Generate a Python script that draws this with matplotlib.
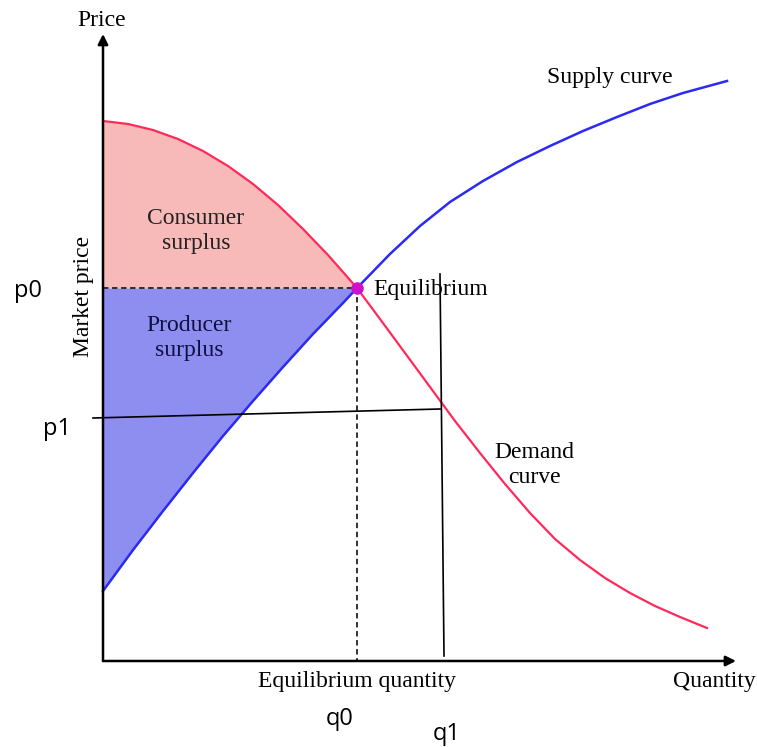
import matplotlib.pyplot as plt

# Demand and supply curves (quantity, price in chart units)
demand_q = [0, 25, 50, 75, 100, 125, 150, 175, 200, 225, 254, 277, 302, 327,
            352, 377, 402, 427, 452, 477, 502, 527, 552, 577, 604]
demand_p = [540, 537, 531, 522, 510, 495, 477, 456, 432, 406, 373, 342, 308, 274,
            240, 208, 177, 148, 122, 101, 83, 68, 55, 44, 33]
supply_q = [0, 30, 60, 90, 120, 150, 180, 210, 240, 254, 287, 317, 347, 380,
            414, 447, 480, 514, 547, 580, 624]
supply_p = [70, 111, 150, 188, 225, 260, 294, 327, 358, 373, 407, 435, 459, 480,
            499, 515, 530, 544, 557, 568, 580]

# equilibrium and the shifted price / quantity lines
q0, p0 = 254, 373
p1_line_q = [-10, 337]
p1_line_p = [243, 252]
q1_line_q = [337, 341]
q1_line_p = [387, 5]

serif = "Liberation Serif"
sans = "Open Sans"

fig = plt.figure(figsize=(7.57, 7.47), dpi=100)
ax = fig.add_axes([0, 0, 1, 1])
ax.set_xlim(-103, 654)
ax.set_ylim(-86, 661)
ax.axis("off")

# surplus areas up to the equilibrium quantity
k_d = demand_q.index(q0) + 1
k_s = supply_q.index(q0) + 1
ax.fill_between(demand_q[:k_d], demand_p[:k_d], p0, color="#f8b9b9", lw=0)
ax.fill_between(supply_q[:k_s], p0, supply_p[:k_s], color="#8e8ef0", lw=0)

# curves
ax.plot(demand_q, demand_p, color="#ff2a5a", lw=1.6)
ax.plot(supply_q, supply_p, color="#2a2af2", lw=1.8)

# dashed guides to the equilibrium
ax.plot([0, q0], [p0, p0], color="#222222", lw=1.3, ls=(0, (3, 2)))
ax.plot([q0, q0], [p0, 0], color="#222222", lw=1.3, ls=(0, (3, 2)))
ax.plot(q0, p0, "o", color="#cc11cc", ms=8)

# solid p1 / q1 lines
ax.plot(p1_line_q, p1_line_p, color="black", lw=1.2)
ax.plot(q1_line_q, q1_line_p, color="black", lw=1.2)

# axes with arrows
arrow = dict(arrowstyle="-|>,head_length=0.6,head_width=0.3", color="black",
             lw=1.8, shrinkA=0, shrinkB=0)
ax.annotate("", xy=(0, 627), xytext=(0, 0), arrowprops=arrow)
ax.annotate("", xy=(633, 0), xytext=(0, 0), arrowprops=arrow)

# labels
fs = 17
ax.text(-1, 640, "Price", family=serif, fontsize=fs, ha="center", va="center")
ax.text(-20, 365, "Market price", family=serif, fontsize=fs, rotation=90,
        ha="center", va="center")
ax.text(93, 430, "Consumer\nsurplus", family=serif, fontsize=fs, ha="center",
        va="center", linespacing=1.3, color="#222222")
ax.text(86, 323, "Producer\nsurplus", family=serif, fontsize=fs, ha="center",
        va="center", linespacing=1.3, color="#101040")
ax.text(270, 372, "Equilibrium", family=serif, fontsize=fs, ha="left", va="center")
ax.text(507, 584, "Supply curve", family=serif, fontsize=fs, ha="center", va="center")
ax.text(431, 196, "Demand\ncurve", family=serif, fontsize=fs, ha="center",
        va="center", linespacing=1.3)
ax.text(254, -20, "Equilibrium quantity", family=serif, fontsize=fs, ha="center",
        va="center")
ax.text(611, -20, "Quantity", family=serif, fontsize=fs, ha="center", va="center")

# added price / quantity markers
ax.text(-75, 370, "p0", family=sans, fontsize=17, ha="center", va="center")
ax.text(-46, 232, "p1", family=sans, fontsize=17, ha="center", va="center")
ax.text(237, -58, "q0", family=sans, fontsize=17, ha="center", va="center")
ax.text(344, -73, "q1", family=sans, fontsize=17, ha="center", va="center")

fig.savefig("out.png", dpi=100, facecolor="white")
